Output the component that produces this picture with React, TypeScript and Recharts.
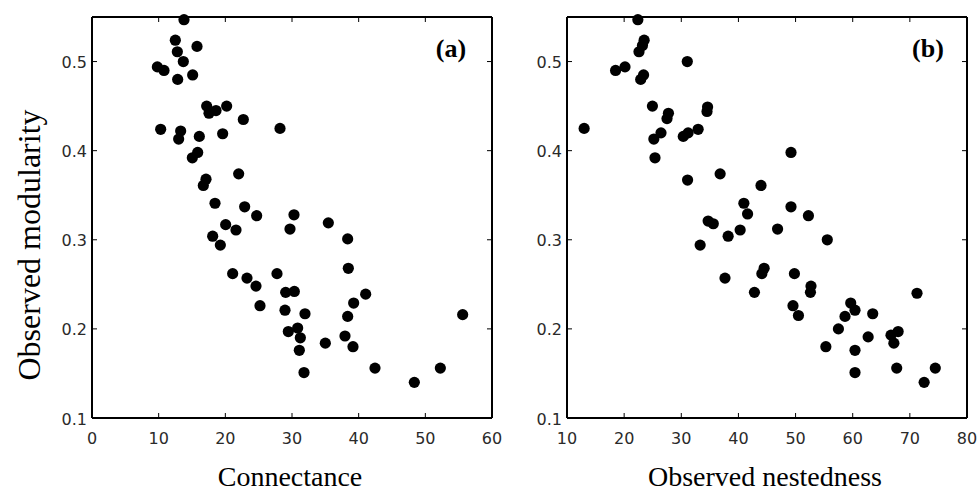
import React from 'react'
import { ScatterChart, Scatter, XAxis, YAxis } from 'recharts'

// panel (a): connectance vs observed modularity
const connectance = [
  13.8, 12.5, 15.75, 12.8, 13.7, 9.8, 10.8, 12.85, 15.1, 17.2, 17.55, 18.6, 20.2, 22.7, 28.2,
  10.3, 13.3, 13.0, 16.1, 19.6, 15.85, 15.05, 22.0, 17.1, 16.7, 18.45, 22.9, 24.7, 30.3, 20.05,
  21.6, 29.7, 18.1, 19.25, 21.1, 23.25, 24.6, 27.75, 29.05, 30.35, 25.2, 28.95, 35.45, 38.35,
  38.45, 41.05, 39.25, 38.35, 55.6, 31.95, 29.45, 30.85, 31.25, 31.1, 35.0, 37.95, 39.15, 31.8,
  42.45, 52.25, 48.35,
]
const modularityA = [
  0.547, 0.524, 0.517, 0.511, 0.5, 0.494, 0.49, 0.48, 0.485, 0.45, 0.442, 0.445, 0.45, 0.435, 0.425,
  0.424, 0.422, 0.413, 0.416, 0.419, 0.398, 0.392, 0.374, 0.368, 0.361, 0.341, 0.337, 0.327, 0.328, 0.317,
  0.311, 0.312, 0.304, 0.294, 0.262, 0.257, 0.248, 0.262, 0.241, 0.242, 0.226, 0.221, 0.319, 0.301,
  0.268, 0.239, 0.229, 0.214, 0.216, 0.217, 0.197, 0.201, 0.19, 0.176, 0.184, 0.192, 0.18, 0.151,
  0.156, 0.156, 0.14,
]

// panel (b): observed nestedness vs observed modularity
const nestedness = [
  22.4, 23.5, 23.2, 22.6, 31.05, 18.5, 20.15, 23.4, 22.9, 24.95, 27.75, 27.5, 34.6, 34.5, 13.0,
  26.45, 25.2, 30.35, 31.2, 32.95, 25.4, 31.1, 36.8, 43.95, 40.95, 41.6, 34.7, 35.6, 40.3, 38.2,
  33.3, 37.65, 44.5, 44.1, 42.8, 46.85, 49.2, 52.25, 55.55, 49.8, 52.7, 52.6, 49.55, 50.5, 59.65,
  60.4, 58.65, 63.5, 57.5, 55.3, 60.4, 62.7, 66.7, 67.95, 67.2, 71.25, 60.4, 67.7, 74.45, 72.5,
  49.2,
]
const modularityB = [
  0.547, 0.524, 0.518, 0.511, 0.5, 0.49, 0.494, 0.485, 0.48, 0.45, 0.442, 0.436, 0.449, 0.444, 0.425,
  0.42, 0.413, 0.416, 0.42, 0.424, 0.392, 0.367, 0.374, 0.361, 0.341, 0.329, 0.321, 0.318, 0.311, 0.304,
  0.294, 0.257, 0.268, 0.262, 0.241, 0.312, 0.337, 0.327, 0.3, 0.262, 0.248, 0.241, 0.226, 0.215, 0.229,
  0.221, 0.214, 0.217, 0.2, 0.18, 0.176, 0.191, 0.193, 0.197, 0.184, 0.24, 0.151, 0.156, 0.156, 0.14,
  0.398,
]

const xTicksA = [0, 10, 20, 30, 40, 50, 60]
const xTicksB = [10, 20, 30, 40, 50, 60, 70, 80]
const yTicks = [0.1, 0.2, 0.3, 0.4, 0.5]

const W = 520
const H = 495
const LEFT = 92
const RIGHT = 8
const EXTRA = 20 // room for the last x tick label
const TOP = 17
const BOTTOM = 77
const PLOT_R = W - EXTRA - RIGHT
const PLOT_B = H - BOTTOM
const TICK = 5
const tickFont = { fontFamily: 'DejaVu Sans', fontSize: 16, fill: '#2a2a2a' }

const Dot = (p: any) => <circle cx={p.cx} cy={p.cy} r={5.6} fill="#000" />
const NoDot = () => <g />

const LeftTick = ({ y, payload }: any) => (
  <g>
    <line x1={LEFT} x2={LEFT + TICK} y1={y} y2={y} stroke="#000" />
    <text x={LEFT - 5} y={y + 1} textAnchor="end" dominantBaseline="central" {...tickFont}>
      {payload.value.toFixed(1)}
    </text>
  </g>
)
const RightTick = ({ y }: any) => (
  <line x1={PLOT_R} x2={PLOT_R - TICK} y1={y} y2={y} stroke="#000" />
)
const BottomTick = ({ x, payload }: any) => (
  <g>
    <line x1={x} x2={x} y1={PLOT_B} y2={PLOT_B - TICK} stroke="#000" />
    <text x={x} y={PLOT_B + 20} textAnchor="middle" dominantBaseline="central" {...tickFont}>
      {payload.value}
    </text>
  </g>
)
const TopTick = ({ x }: any) => (
  <line x1={x} x2={x} y1={TOP} y2={TOP + TICK} stroke="#000" />
)

function Panel({ xs, ys, domain, ticks, left }: any) {
  const data = xs.map((x: number, i: number) => ({ x, y: ys[i] }))
  const axisLine = { stroke: '#000', strokeWidth: 2 }
  return (
    <div style={{ position: 'absolute', left, top: 0 }}>
      <ScatterChart width={W} height={H} margin={{ top: 0, right: EXTRA, bottom: 0, left: 0 }}>
        <XAxis xAxisId="b" type="number" dataKey="x" domain={domain} ticks={ticks} interval={0}
          orientation="bottom" height={BOTTOM} axisLine={axisLine} tickLine={false} tick={<BottomTick />} />
        <XAxis xAxisId="t" type="number" dataKey="x" domain={domain} ticks={ticks.slice(1, -1)} interval={0}
          orientation="top" height={TOP} axisLine={axisLine} tickLine={false} tick={<TopTick />} />
        <YAxis yAxisId="l" type="number" dataKey="y" domain={[0.1, 0.55]} ticks={yTicks} interval={0}
          orientation="left" width={LEFT} axisLine={axisLine} tickLine={false} tick={<LeftTick />} />
        <YAxis yAxisId="r" type="number" dataKey="y" domain={[0.1, 0.55]} ticks={yTicks.slice(1)} interval={0}
          orientation="right" width={RIGHT} axisLine={axisLine} tickLine={false} tick={<RightTick />} />
        <Scatter data={data} xAxisId="t" yAxisId="r" shape={<NoDot />} isAnimationActive={false} />
        <Scatter data={data} xAxisId="b" yAxisId="l" shape={<Dot />} isAnimationActive={false} />
      </ScatterChart>
    </div>
  )
}

export default function App() {
  const serif = 'Liberation Serif, Times New Roman, serif'
  return (
    <div style={{ position: 'absolute', left: 0, top: 0, width: 979, height: 495, background: '#fff', overflow: 'hidden' }}>
      <Panel xs={connectance} ys={modularityA} domain={[0, 60]} ticks={xTicksA} left={0} />
      <Panel xs={nestedness} ys={modularityB} domain={[10, 80]} ticks={xTicksB} left={475} />
      <svg width={979} height={495} style={{ position: 'absolute', left: 0, top: 0, pointerEvents: 'none' }}>
        <text x={29} y={245} transform="rotate(-90 29 245)" textAnchor="middle" dominantBaseline="central"
          fontFamily={serif} fontSize={32} fill="#000">Observed modularity</text>
        <text x={290} y={476} textAnchor="middle" dominantBaseline="central"
          fontFamily={serif} fontSize={28} fill="#000">Connectance</text>
        <text x={765} y={476} textAnchor="middle" dominantBaseline="central"
          fontFamily={serif} fontSize={28} fill="#000">Observed nestedness</text>
        <text x={451} y={57} textAnchor="middle" fontFamily={serif} fontWeight="bold"
          fontSize={26} fill="#000">(a)</text>
        <text x={928} y={57} textAnchor="middle" fontFamily={serif} fontWeight="bold"
          fontSize={26} fill="#000">(b)</text>
      </svg>
    </div>
  )
}
